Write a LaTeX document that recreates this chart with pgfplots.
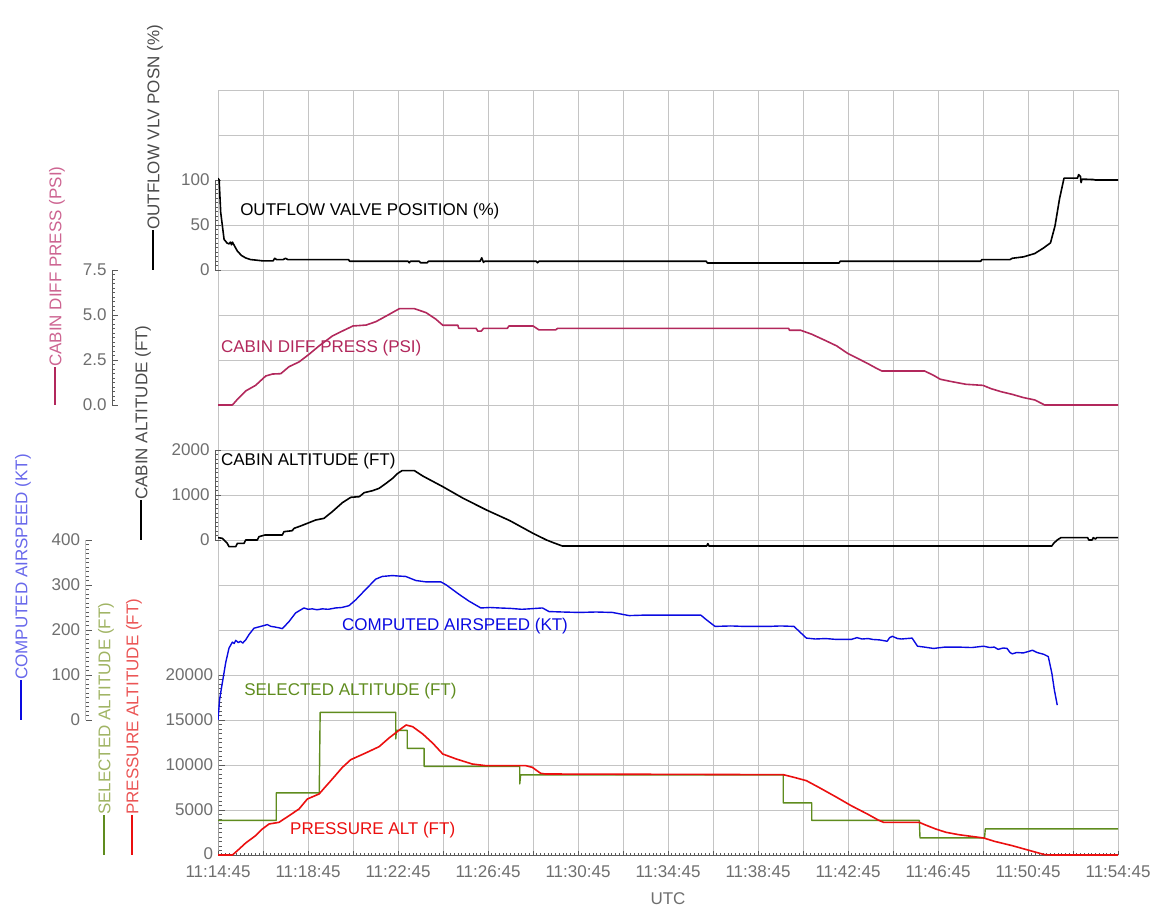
\documentclass[border=0pt]{standalone}
\usepackage{pgfplots}
\pgfplotsset{compat=1.18}
\usepackage{fontspec}
\setmainfont{Liberation Sans}
\definecolor{gridc}{RGB}{196,196,196}
\definecolor{tickc}{RGB}{110,110,110}
\definecolor{axc}{RGB}{90,90,90}
\definecolor{cdcol}{RGB}{178,40,92}
\definecolor{cdtext}{RGB}{205,100,145}
\definecolor{ascol}{RGB}{10,10,225}
\definecolor{astext}{RGB}{105,105,235}
\definecolor{sacol}{RGB}{95,140,30}
\definecolor{satext}{RGB}{160,180,100}
\definecolor{pacol}{RGB}{235,15,15}
\definecolor{patext}{RGB}{235,85,85}
\definecolor{ttext}{RGB}{75,75,75}
\newcommand{\lf}{\fontsize{17}{20}\selectfont}

\pgfplotsset{
  base/.style={scale only axis, width=900pt, height=765pt, at={(218pt,56pt)}, anchor=south west,
    xmin=0, xmax=40, clip=true, scaled ticks=false},
  ser/.style={base, hide axis},
  sc/.style={base, hide x axis, axis y line*=left, axis line style={-}, y axis line style={draw=none},
    tick align=inside, major tick length=6pt, minor tick length=3pt,
    every tick/.style={draw=axc, line width=0.6pt},
    yticklabel style={font=\lf, text=tickc, xshift=-2pt}},
}

\begin{document}
\begin{tikzpicture}
\path[use as bounding box] (0pt,0pt) rectangle (1161pt,911pt);

% grid axis
\begin{axis}[base, ymin=0, ymax=17,
  axis x line*=bottom, axis y line*=left, axis line style={-},
  y axis line style={draw=none}, x axis line style={draw=axc, line width=0.8pt},
  ytick={0,...,17}, yticklabels={}, ytick style={draw=none},
  xtick={0,2,...,40},
  xticklabels={11:14:45,,11:18:45,,11:22:45,,11:26:45,,11:30:45,,11:34:45,,11:38:45,,11:42:45,,11:46:45,,11:50:45,,11:54:45},
  minor x tick num=11,
  tick align=inside, xtick style={draw=axc, line width=0.6pt}, major tick length=4pt, minor tick length=2.5pt,
  grid=major, major grid style={draw=gridc, line width=0.9pt},
  xticklabel style={font=\lf, text=tickc, yshift=-7pt},
  xlabel={UTC}, xlabel style={font=\lf, text=tickc, yshift=-8pt},
]
\node[anchor=west, inner sep=0pt, font=\lf, text=black] at (axis cs:0.98,14.31) {OUTFLOW VALVE POSITION (\%)};
\node[anchor=west, inner sep=0pt, font=\lf, text=cdcol] at (axis cs:0.13,11.27) {CABIN DIFF PRESS (PSI)};
\node[anchor=west, inner sep=0pt, font=\lf, text=black] at (axis cs:0.13,8.76) {CABIN ALTITUDE (FT)};
\node[anchor=west, inner sep=0pt, font=\lf, text=ascol] at (axis cs:5.51,5.09) {COMPUTED AIRSPEED (KT)};
\node[anchor=west, inner sep=0pt, font=\lf, text=sacol] at (axis cs:1.16,3.64) {SELECTED ALTITUDE (FT)};
\node[anchor=west, inner sep=0pt, font=\lf, text=pacol] at (axis cs:3.2,0.56) {PRESSURE ALT (FT)};
\end{axis}

% scales
\begin{axis}[sc, xshift=-3pt, ymin=-650, ymax=200,
  ytick={0,50,100}, yticklabels={0,50,100}, minor ytick={5,10,...,95}]
\draw[axc, line width=0.8pt] (axis cs:0,0) -- (axis cs:0,100);
\end{axis}
\begin{axis}[sc, xshift=-106pt, ymin=-25, ymax=17.5,
  ytick={0,2.5,5,7.5}, yticklabels={0.0,2.5,5.0,7.5}, minor ytick={0.25,0.5,...,7.3}]
\draw[axc, line width=0.8pt] (axis cs:0,0) -- (axis cs:0,7.5);
\end{axis}
\begin{axis}[sc, xshift=-3pt, ymin=-7000, ymax=10000,
  ytick={0,1000,2000}, yticklabels={0,1000,2000}, minor ytick={100,200,...,1900}]
\draw[axc, line width=0.8pt] (axis cs:0,0) -- (axis cs:0,2000);
\end{axis}
\begin{axis}[sc, xshift=-132.5pt, ymin=-300, ymax=1400,
  ytick={0,100,200,300,400}, yticklabels={0,100,200,300,400}, minor ytick={10,20,...,390}]
\draw[axc, line width=0.8pt] (axis cs:0,0) -- (axis cs:0,400);
\end{axis}
\begin{axis}[sc, xshift=0.5pt, ymin=0, ymax=85000,
  ytick={0,5000,10000,15000,20000}, yticklabels={\raisebox{2pt}{0},5000,10000,15000,20000}, minor ytick={500,1000,...,19500}]
\draw[axc, line width=0.8pt] (axis cs:0,0) -- (axis cs:0,20000);
\end{axis}

% outflow valve position
\begin{axis}[ser, ymin=-650, ymax=200]
\addplot[black, line width=1.6pt, line join=round, mark=none] table {
0 102
0.05 100
0.12 64
0.27 34
0.40 30
0.49 29
0.55 31
0.60 28
0.64 31
0.75 26
0.86 21
1.05 16
1.23 13.4
1.45 11.6
1.97 10.2
2.45 10.2
2.52 13
2.6 11.6
2.9 11.6
3.0 13
3.1 11.6
5.8 11.6
5.85 9.7
8.45 9.7
8.5 8
8.55 9.7
8.95 9.7
9.0 8
9.3 8
9.35 9.7
11.65 9.7
11.72 13.5
11.8 8.5
11.85 9.7
14.15 9.7
14.2 8
14.27 9.7
21.7 9.7
21.75 7.8
27.6 7.8
27.65 9.7
33.9 9.7
33.95 11.6
35.2 11.6
35.3 13
35.8 14.6
36.3 18.3
36.7 24.6
37.0 30.2
37.2 49
37.4 79
37.6 102
38.2 102
38.25 106
38.33 104
38.36 97
38.4 101
38.9 100.5
39.0 100
40 100
};
\end{axis}

% cabin diff press
\begin{axis}[ser, ymin=-25, ymax=17.5]
\addplot[cdcol, line width=1.6pt, line join=round, mark=none] table {
0 0
0.64 0
0.86 0.31
1.23 0.78
1.67 1.09
2.12 1.61
2.42 1.72
2.79 1.74
3.16 2.13
3.6 2.39
4.04 2.81
4.49 3.28
5.08 3.83
5.53 4.11
6.0 4.39
6.58 4.44
7.02 4.63
7.47 4.94
8.06 5.35
8.73 5.35
9.25 5.13
9.69 4.76
9.99 4.43
10.66 4.43
10.7 4.26
11.47 4.26
11.55 4.1
11.7 4.1
11.8 4.26
12.86 4.26
12.93 4.39
14.0 4.39
14.27 4.17
15.0 4.17
15.1 4.26
25.36 4.26
25.4 4.15
25.9 4.15
26.39 3.93
27.03 3.56
27.5 3.28
27.98 2.87
28.46 2.57
28.94 2.26
29.26 2.04
29.5 1.89
31.4 1.89
31.8 1.65
32.1 1.43
32.6 1.30
33.24 1.15
34.0 1.09
34.35 0.91
34.8 0.74
35.3 0.59
35.8 0.41
36.3 0.28
36.74 0
40 0
};
\end{axis}

% cabin altitude
\begin{axis}[ser, ymin=-7000, ymax=10000]
\addplot[black, line width=1.6pt, line join=round, mark=none] table {
0 52
0.19 37
0.41 -74
0.49 -148
0.79 -148
0.86 -74
1.16 -74
1.23 0
1.75 0
1.82 74
2.09 111
2.86 111
2.93 185
3.3 207
3.38 259
3.67 311
3.97 370
4.34 444
4.71 481
5.08 630
5.53 830
5.9 948
6.28 963
6.5 1052
6.87 1096
7.16 1148
7.47 1259
7.76 1370
7.99 1481
8.18 1541
8.73 1541
9.1 1422
9.99 1185
10.9 926
11.93 667
12.97 430
14.0 148
14.6 0
14.9 -59
15.3 -133
21.72 -133
21.77 -80
21.82 -133
37.06 -133
37.14 -74
37.3 0
37.46 52
38.65 52
38.7 0
38.85 0
38.9 52
39.0 20
39.05 52
40 52
};
\end{axis}

% computed airspeed
\begin{axis}[ser, ymin=-300, ymax=1400]
\addplot[ascol, line width=1.4pt, line join=round, mark=none] table {
0 0
0.07 45
0.19 82
0.34 127
0.49 160
0.64 173
0.72 170
0.79 177
0.9 172
1.0 175
1.1 171
1.23 178
1.38 190
1.6 204
1.75 206
1.9 208
2.05 210
2.19 212
2.35 208
2.49 207
2.7 205
2.86 203
3.16 219
3.45 238
3.82 249
4.0 246
4.19 247
4.4 245
4.64 247
4.9 246
5.23 249
5.5 250
5.82 254
6.12 267
6.56 290
7.01 313
7.3 319
7.75 321
8.0 320
8.34 319
8.79 310
9.23 307
9.9 307
10.12 301
10.72 279
11.16 264
11.68 249
12.1 250
12.49 249
13.0 248
13.5 246
13.83 247
14.42 249
14.71 241
15.3 240
16.05 239
16.8 240
17.53 239
18.27 232
18.9 233
19.39 233
20.5 233
21.46 233
21.7 223
22.09 208
22.8 209
23.37 208
24.5 208
25.0 209
25.6 208
25.83 197
26.15 182
26.55 180
27.0 181
27.5 179
28.14 179
28.4 183
28.62 180
28.9 181
29.1 179
29.4 178
29.74 175
29.85 183
29.97 186
30.2 181
30.37 180
30.85 182
31.09 164
31.4 162
31.8 159
32.3 162
32.92 162
33.5 161
34.03 164
34.3 161
34.5 162
34.67 157
34.9 160
35.07 159
35.2 150
35.3 147
35.5 150
35.79 149
36.0 152
36.2 155
36.4 150
36.55 148
36.7 146
36.9 141
37.06 104
37.17 67
37.3 33
};
\end{axis}

% selected altitude and pressure altitude
\begin{axis}[ser, ymin=0, ymax=85000]
\addplot[sacol, line width=1.4pt, line join=round, mark=none] table {
0 3850
2.59 3850
2.59 6900
4.50 6900
4.54 15850
7.9 15850
7.9 12900
7.93 13850
8.41 13850
8.41 11850
9.16 11850
9.16 9850
13.41 9850
13.41 7900
13.45 8900
25.12 8900
25.12 5800
26.39 5800
26.39 3850
31.17 3850
31.2 1900
34.07 1900
34.1 2900
40 2900
};
\addplot[pacol, line width=1.6pt, line join=round, mark=none] table {
0 0
0.64 0
0.86 480
1.23 1333
1.67 2148
1.97 2889
2.27 3444
2.71 3630
3.16 4370
3.6 5111
3.97 6222
4.49 6778
5.08 8444
5.53 9740
5.9 10593
6.56 11333
7.16 12037
7.6 13000
8.06 13889
8.36 14444
8.65 14259
9.1 13444
9.55 12407
9.99 11222
10.59 10667
11.3 10111
11.9 9926
13.68 9926
13.97 9740
14.34 9074
14.56 9000
25.12 8926
25.6 8630
26.15 8260
26.7 7519
27.5 6407
28.14 5481
28.86 4556
29.34 3889
29.58 3630
31.17 3630
31.41 3370
31.9 2889
32.36 2519
32.92 2259
34.03 1889
34.51 1519
35.3 1037
36.1 481
36.74 37
37.06 0
40 0
};
\end{axis}

% rotated axis titles
\node[rotate=90, anchor=west, inner sep=0pt, font=\lf, text=ttext] at (155pt,641pt) {\textcolor{black}{\rule[0.33em]{40pt}{1.6pt}}OUTFLOW VLV POSN (\%)};
\node[rotate=90, anchor=west, inner sep=0pt, font=\lf, text=cdtext] at (57pt,506pt) {\textcolor{cdcol}{\rule[0.33em]{38pt}{1.6pt}}CABIN DIFF PRESS (PSI)};
\node[rotate=90, anchor=west, inner sep=0pt, font=\lf, text=ttext] at (143pt,371pt) {\textcolor{black}{\rule[0.33em]{40pt}{1.6pt}}CABIN ALTITUDE (FT)};
\node[rotate=90, anchor=west, inner sep=0pt, font=\lf, text=astext] at (23pt,191pt) {\textcolor{ascol}{\rule[0.33em]{40pt}{1.6pt}}COMPUTED AIRSPEED (KT)};
\node[rotate=90, anchor=west, inner sep=0pt, font=\lf, text=satext] at (106pt,56pt) {\textcolor{sacol}{\rule[0.33em]{40pt}{1.6pt}}SELECTED ALTITUDE (FT)};
\node[rotate=90, anchor=west, inner sep=0pt, font=\lf, text=patext] at (134pt,56pt) {\textcolor{pacol}{\rule[0.33em]{40pt}{1.6pt}}PRESSURE ALTITUDE (FT)};
\end{tikzpicture}
\end{document}
